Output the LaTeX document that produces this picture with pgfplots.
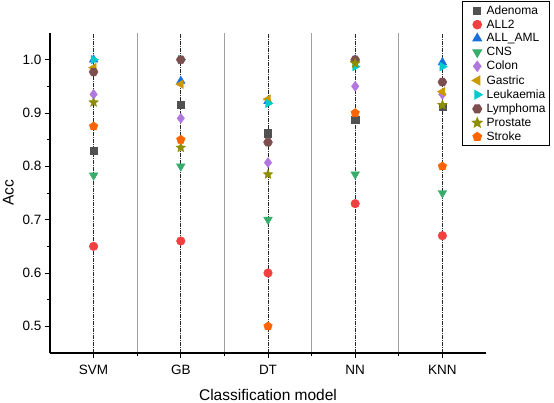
\documentclass[border=0pt]{standalone}
\usepackage{fontspec}
\setmainfont{Liberation Sans}
\usepackage{pgfplots}
\pgfplotsset{compat=1.18}
\definecolor{cA}{HTML}{515151}
\definecolor{cB}{HTML}{F14040}
\definecolor{cC}{HTML}{1A6FDF}
\definecolor{cD}{HTML}{37AD6B}
\definecolor{cE}{HTML}{B177DE}
\definecolor{cF}{HTML}{CC9900}
\definecolor{cG}{HTML}{00CBCC}
\definecolor{cH}{HTML}{7D4E4E}
\definecolor{cI}{HTML}{8E8E00}
\definecolor{cJ}{HTML}{FB6501}
\pgfdeclareplotmark{hexa*}{%
  \pgfpathmoveto{\pgfpointpolar{0}{\pgfplotmarksize}}%
  \pgfpathlineto{\pgfpointpolar{60}{\pgfplotmarksize}}%
  \pgfpathlineto{\pgfpointpolar{120}{\pgfplotmarksize}}%
  \pgfpathlineto{\pgfpointpolar{180}{\pgfplotmarksize}}%
  \pgfpathlineto{\pgfpointpolar{240}{\pgfplotmarksize}}%
  \pgfpathlineto{\pgfpointpolar{300}{\pgfplotmarksize}}%
  \pgfpathclose\pgfusepathqfillstroke}
\pgfdeclareplotmark{fstar}{%
  \pgfpathmoveto{\pgfpointpolar{90}{\pgfplotmarksize}}%
  \pgfpathlineto{\pgfpointpolar{126}{0.45\pgfplotmarksize}}%
  \pgfpathlineto{\pgfpointpolar{162}{\pgfplotmarksize}}%
  \pgfpathlineto{\pgfpointpolar{198}{0.45\pgfplotmarksize}}%
  \pgfpathlineto{\pgfpointpolar{234}{\pgfplotmarksize}}%
  \pgfpathlineto{\pgfpointpolar{270}{0.45\pgfplotmarksize}}%
  \pgfpathlineto{\pgfpointpolar{306}{\pgfplotmarksize}}%
  \pgfpathlineto{\pgfpointpolar{342}{0.45\pgfplotmarksize}}%
  \pgfpathlineto{\pgfpointpolar{18}{\pgfplotmarksize}}%
  \pgfpathlineto{\pgfpointpolar{54}{0.45\pgfplotmarksize}}%
  \pgfpathclose\pgfusepathqfillstroke}
\begin{document}
\begin{tikzpicture}
\path[use as bounding box] (-50pt,-49pt) rectangle (504pt,353pt);
\begin{axis}[
  scale only axis, width=436pt, height=320pt, at={(0,0)}, anchor=south west,
  xmin=0.5, xmax=5.5, ymin=0.45, ymax=1.05,
  xtick={1,2,3,4,5}, xticklabels={SVM,GB,DT,NN,KNN},
  minor xtick={1.5,2.5,3.5,4.5},
  ytick={0.5,0.6,0.7,0.8,0.9,1.0}, minor ytick={0.55,0.65,0.75,0.85,0.95},
  /pgf/number format/assume math mode=true,
  yticklabel style={/pgf/number format/fixed, /pgf/number format/fixed zerofill, /pgf/number format/precision=1},
  ticklabel style={font=\fontsize{13.5}{15}\selectfont},
  xticklabel style={yshift=-4pt},
  axis x line*=bottom, axis y line*=left,
  axis line style={-, line width=1.1pt},
  tick align=outside, major tick length=5pt, minor tick length=3pt,
  tick style={black, line width=1pt},
  xmajorgrids, xminorgrids,
  major grid style={black!85, dash pattern=on 4pt off 1pt on 1pt off 1pt, line width=0.9pt},
  minor grid style={gray!75, line width=1pt},
  xlabel={Classification model}, ylabel={Acc},
  label style={font=\fontsize{15.5}{17}\selectfont},
  xlabel style={yshift=-7pt},
  ylabel style={yshift=2pt},
  every mark/.append style={solid},
  legend image code/.code={\path (0cm,0cm) (0.68cm,0cm); \draw plot coordinates {(0.44cm,0cm)};},
  legend style={at={(1.1468,1.1)}, anchor=north east, draw=black, line width=1pt,
    font=\fontsize{12}{13}\selectfont, row sep=0pt, inner xsep=2pt, inner ysep=2pt},
  legend cell align=left,
]
\addplot[only marks, mark=square*, mark size=3.6pt, color=cA] coordinates {(1,0.83)(2,0.915)(3,0.862)(4,0.888)(5,0.912)};
\addlegendentry{Adenoma}
\addplot[only marks, mark=*, mark size=4.3pt, color=cB] coordinates {(1,0.65)(2,0.66)(3,0.60)(4,0.73)(5,0.67)};
\addlegendentry{ALL2}
\addplot[only marks, mark=triangle*, mark size=5pt, color=cC] coordinates {(1,1.0)(2,0.96)(3,0.922)(4,1.0)(5,0.995)};
\addlegendentry{ALL\_AML}
\addplot[only marks, mark=triangle*, mark size=5pt, color=cD, mark options={rotate=180}] coordinates {(1,0.783)(2,0.80)(3,0.70)(4,0.785)(5,0.75)};
\addlegendentry{CNS}
\addplot[only marks, mark=diamond*, mark size=5pt, color=cE] coordinates {(1,0.935)(2,0.89)(3,0.807)(4,0.95)(5,0.935)};
\addlegendentry{Colon}
\addplot[only marks, mark=triangle*, mark size=5pt, color=cF, mark options={rotate=90}] coordinates {(1,0.985)(2,0.954)(3,0.926)(4,0.997)(5,0.94)};
\addlegendentry{Gastric}
\addplot[only marks, mark=triangle*, mark size=5pt, color=cG, mark options={rotate=-90}] coordinates {(1,1.0)(2,1.0)(3,0.918)(4,0.987)(5,0.987)};
\addlegendentry{Leukaemia}
\addplot[only marks, mark=hexa*, mark size=4.5pt, color=cH] coordinates {(1,0.977)(2,1.0)(3,0.845)(4,1.0)(5,0.958)};
\addlegendentry{Lymphoma}
\addplot[only marks, mark=fstar, mark size=5pt, color=cI] coordinates {(1,0.92)(2,0.835)(3,0.785)(4,0.993)(5,0.915)};
\addlegendentry{Prostate}
\addplot[only marks, mark=pentagon*, mark size=4.5pt, color=cJ] coordinates {(1,0.875)(2,0.85)(3,0.50)(4,0.90)(5,0.80)};
\addlegendentry{Stroke}
\end{axis}
\end{tikzpicture}
\end{document}
